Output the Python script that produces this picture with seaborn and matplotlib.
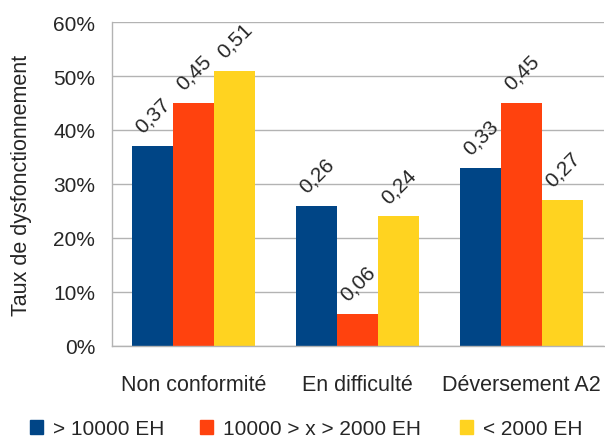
import pandas as pd
import matplotlib.pyplot as plt
import seaborn as sns
from matplotlib.ticker import FixedLocator, PercentFormatter

# chart values
categories = ["Non conformité", "En difficulté", "Déversement A2"]
series = ["> 10000 EH", "10000 > x > 2000 EH", "< 2000 EH"]
big = [0.37, 0.26, 0.33]
medium = [0.45, 0.06, 0.45]
small = [0.51, 0.24, 0.27]
colors = ["#004586", "#ff420e", "#ffd320"]
ytick_values = [0, 0.1, 0.2, 0.3, 0.4, 0.5, 0.6]

sns.set_style("white")
plt.rcParams['font.family'] = ['Liberation Sans', 'DejaVu Sans']

df = pd.DataFrame({
    "cat": categories * 3,
    "serie": [series[0]] * 3 + [series[1]] * 3 + [series[2]] * 3,
    "val": big + medium + small,
})

fig = plt.figure(figsize=(6.05, 4.39), dpi=100)
ax = fig.add_axes([0.185, 0.2096, 0.813, 0.738])

sns.barplot(data=df, x="cat", y="val", hue="serie", palette=colors,
            width=0.75, saturation=1, ax=ax, legend=False, linewidth=0)

# data labels
for cont in ax.containers:
    for bar in cont:
        h = bar.get_height()
        ax.annotate(f"{h:.2f}".replace(".", ","),
                    (bar.get_x() + bar.get_width() / 2, h),
                    xytext=(0, 7), textcoords="offset points",
                    ha="center", va="bottom", rotation=45, fontsize=15)

ax.set_ylim(0, 0.6)
ax.set_xlim(-0.5, 2.5)
ax.yaxis.set_major_locator(FixedLocator(ytick_values))
ax.yaxis.set_major_formatter(PercentFormatter(1.0, decimals=0))
ax.grid(axis="y", color="#b3b3b3", linewidth=1)
ax.set_axisbelow(True)

for s in ["top", "right"]:
    ax.spines[s].set_visible(False)
for s in ["left", "bottom"]:
    ax.spines[s].set_color("#b3b3b3")
    ax.spines[s].set_linewidth(1)

ax.tick_params(axis="y", length=9, color="#b3b3b3", width=1, labelsize=15, pad=3)
ax.tick_params(axis="x", which="major", length=0, labelsize=15.5, pad=20)
ax.xaxis.set_minor_locator(FixedLocator([-0.5, 0.5, 1.5, 2.5]))
ax.tick_params(axis="x", which="minor", length=8, color="#b3b3b3", width=1)

ax.set_xlabel("")
ax.set_ylabel("Taux de dysfonctionnement", fontsize=15.5, labelpad=15)

# legend: one entry per series, placed along the bottom
legend_x = [30 / 605, 200 / 605, 460 / 605]
for name, c, lx in zip(series, colors, legend_x):
    leg = fig.legend([plt.Rectangle((0, 0), 1, 1, color=c)], [name],
                     loc="center left", bbox_to_anchor=(lx, 0.021),
                     frameon=False, fontsize=15, handlelength=0.6,
                     handleheight=0.6, handletextpad=0.5,
                     borderpad=0, borderaxespad=0)

fig.savefig("out.png", dpi=100)
